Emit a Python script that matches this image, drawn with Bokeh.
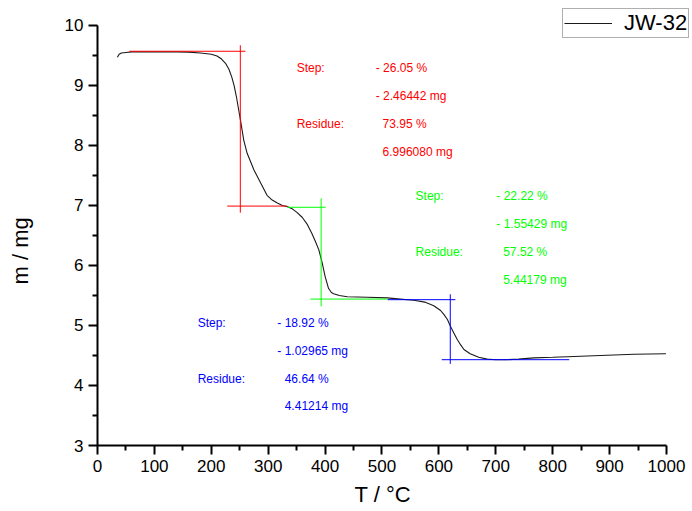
from bokeh.plotting import figure
from bokeh.models import Range1d, Legend, LegendItem, FixedTicker, Title
from bokeh.embed import file_html
from bokeh.resources import INLINE
from bokeh.core.properties import value

# TGA curve: temperature (°C) and sample mass (mg)
temperature = [35, 38, 42, 50, 60, 80, 100, 120, 140, 160, 181, 200, 210, 218,
               225, 231, 236, 240, 244, 248, 252, 257, 263, 275, 287, 298, 307,
               316, 325, 334, 343, 351, 360, 369, 377, 383, 389, 395, 400, 406,
               411, 415, 425, 439, 474, 509, 532, 556, 575, 591, 603, 609, 615,
               620, 626, 632, 638, 644, 655, 670, 685, 700, 720, 740, 767, 800,
               826, 884, 943, 999]
mass = [9.47, 9.52, 9.54, 9.55, 9.56, 9.56, 9.56, 9.56, 9.56, 9.555, 9.54,
        9.52, 9.49, 9.44, 9.37, 9.27, 9.14, 9.00, 8.82, 8.60, 8.38, 8.09, 7.87,
        7.59, 7.37, 7.17, 7.09, 7.04, 7.00, 6.98, 6.94, 6.88, 6.80, 6.68, 6.53,
        6.40, 6.26, 6.04, 5.82, 5.62, 5.55, 5.53, 5.50, 5.48, 5.47, 5.46, 5.44,
        5.42, 5.39, 5.33, 5.25, 5.18, 5.10, 4.99, 4.88, 4.77, 4.68, 4.60, 4.53,
        4.47, 4.44, 4.43, 4.43, 4.44, 4.46, 4.47, 4.48, 4.50, 4.52, 4.53]

# Step evaluation: tangent levels before/after each step and the inflection temperature
step_mid_T = [251, 393, 620]
step_upper = [9.57, 6.97, 5.43]
step_lower = [6.99, 5.44, 4.43]
upper_span = [(56, 260), (334, 401), (510, 629)]
lower_span = [(228, 333), (374, 510), (605, 829)]
vertical_span = [(6.88, 9.67), (5.32, 7.12), (4.36, 5.52)]
step_colors = ["#ff0000", "#00ff00", "#0000ff"]

step_pct = ["- 26.05 %", "- 22.22 %", "- 18.92 %"]
step_mg = ["- 2.46442 mg", "- 1.55429 mg", "- 1.02965 mg"]
residue_pct = ["73.95 %", "57.52 %", "46.64 %"]
residue_mg = ["6.996080 mg", "5.44179 mg", "4.41214 mg"]

x_ticks = list(range(0, 1001, 100))
y_ticks = list(range(3, 11))

FONT = "Liberation Sans"

# The frame reaches the top and right edges so the legend box has room there;
# the axes themselves are bounded to 0-1000 °C and 3-10 mg.
p = figure(width=692, height=511, output_backend="svg", toolbar_location=None,
           x_range=Range1d(0, 1045.7), y_range=Range1d(3, 10.416),
           min_border_left=97, min_border_right=0, min_border_top=0,
           min_border_bottom=65)
p.outline_line_color = None
p.grid.visible = False
p.background_fill_color = "white"
p.border_fill_color = "white"

p.xaxis.ticker = FixedTicker(ticks=x_ticks,
                             minor_ticks=[t + 50 for t in x_ticks[:-1]])
p.yaxis.ticker = FixedTicker(ticks=y_ticks,
                             minor_ticks=[t + 0.5 for t in y_ticks[:-1]])
p.xaxis.bounds = (0, 1000)
p.yaxis.bounds = (3, 10)
for ax in (p.xaxis[0], p.yaxis[0]):
    ax.axis_line_width = 2
    ax.axis_line_color = "black"
    ax.major_tick_line_width = 2
    ax.minor_tick_line_width = 2
    ax.major_tick_line_color = "black"
    ax.minor_tick_line_color = "black"
    ax.major_tick_in = 0
    ax.major_tick_out = 9
    ax.minor_tick_in = 0
    ax.minor_tick_out = 5
    ax.major_label_text_font = FONT
    ax.major_label_text_font_size = "17px"
    ax.major_label_text_color = "black"

# axis titles, centred under/beside the bounded axes
p.add_layout(Title(text="T / °C", align="left", offset=257, standoff=10,
                   text_font=FONT, text_font_size="22px",
                   text_font_style="normal", text_color="black"), "below")
# blank gap between the y tick labels and the y title
p.add_layout(Title(text=" ", standoff=0, text_font=FONT,
                   text_font_size="21px"), "left")
p.add_layout(Title(text="m / mg", align="left", offset=161, standoff=8,
                   text_font=FONT, text_font_size="22px",
                   text_font_style="normal", text_color="black"), "left")

curve = p.line(temperature, mass, line_color="#1a1a1a", line_width=1.1)

# step construction lines
for i, c in enumerate(step_colors):
    p.line(list(upper_span[i]), [step_upper[i]] * 2, line_color=c, line_width=1)
    p.line(list(lower_span[i]), [step_lower[i]] * 2, line_color=c, line_width=1)
    p.line([step_mid_T[i]] * 2, list(vertical_span[i]), line_color=c, line_width=1)

# result texts for each step
label_x = [(350, 489, 501), (559, 701, 713), (176, 316, 329)]
label_y = [(9.29, 8.82, 8.36, 7.89), (7.15, 6.69, 6.22, 5.75),
           (5.04, 4.58, 4.11, 3.65)]
for i, c in enumerate(step_colors):
    x0, x1, x2 = label_x[i]
    y0, y1, y2, y3 = label_y[i]
    p.text(x=[x0, x1, x1, x0, x2, x2], y=[y0, y0, y1, y2, y2, y3],
           text=["Step:", step_pct[i], step_mg[i], "Residue:",
                 residue_pct[i], residue_mg[i]],
           text_color=c, text_font=value(FONT), text_font_size="12px",
           text_align="left", text_baseline="middle")

legend = Legend(items=[LegendItem(label="JW-32", renderers=[curve])],
                location=(465, 407), orientation="vertical",
                label_text_font=FONT, label_text_font_size="22px",
                label_text_color="black", border_line_color="#606060",
                border_line_width=1, glyph_width=48, glyph_height=18,
                label_height=18, padding=1, margin=0, label_standoff=12,
                spacing=0, background_fill_color="white",
                background_fill_alpha=1)
p.add_layout(legend)

open("out.html", "w").write(file_html(p, INLINE))
